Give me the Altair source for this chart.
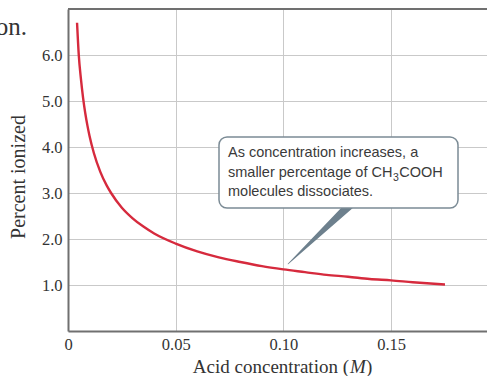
import altair as alt
import pandas as pd

# Percent ionization of acetic acid versus its concentration
conc = [0.0042, 0.005, 0.006, 0.007, 0.008, 0.009, 0.010, 0.012, 0.015, 0.018,
        0.020, 0.025, 0.030, 0.035, 0.040, 0.050, 0.060, 0.070, 0.080, 0.090,
        0.100, 0.110, 0.120, 0.130, 0.140, 0.150, 0.160, 0.175]
pct = [6.70, 6.00, 5.48, 5.07, 4.74, 4.47, 4.24, 3.87, 3.46, 3.16,
       3.00, 2.68, 2.45, 2.27, 2.12, 1.90, 1.73, 1.60, 1.50, 1.41,
       1.34, 1.28, 1.22, 1.18, 1.13, 1.10, 1.06, 1.01]

x_ticks = [0, 0.05, 0.10, 0.15]
y_ticks = [1, 2, 3, 4, 5, 6]

note_lines = ["As concentration increases, a", "smaller percentage of CH",
              "3", "COOH", "molecules dissociates."]

W, H = 419, 322
SERIF = "Liberation Serif"
SANS = "Liberation Sans"
AXIS_GRAY = "#707070"
GRID = "#c9c9c9"
TXT = "#333333"

curve_df = pd.DataFrame({"conc": conc, "pct": pct})

base = alt.Chart(curve_df)

curve = base.mark_line(color="#d62a3d", strokeWidth=2.4, interpolate="monotone").encode(
    x=alt.X("conc:Q",
            scale=alt.Scale(domain=[0, 0.1945], nice=False, zero=True),
            axis=alt.Axis(values=x_ticks, title=None, ticks=False,
                          labelExpr="datum.value == 0 ? '0' : format(datum.value, '.2f')",
                          labelFont=SERIF, labelFontSize=16.5, labelColor=TXT,
                          labelPadding=5, labelFlush=False,
                          domainColor=AXIS_GRAY, domainWidth=2,
                          gridColor=GRID, gridWidth=1)),
    y=alt.Y("pct:Q",
            scale=alt.Scale(domain=[0, 7], nice=False),
            axis=alt.Axis(values=y_ticks, title=None, ticks=False, format=".1f",
                          labelFont=SERIF, labelFontSize=16.5, labelColor=TXT,
                          labelPadding=6,
                          domainColor=AXIS_GRAY, domainWidth=2,
                          gridColor=GRID, gridWidth=1)),
)

# Top frame line
top_rule = alt.Chart(pd.DataFrame({"a": [0]})).mark_rule(
    color=AXIS_GRAY, strokeWidth=2
).encode(x=alt.value(0), x2=alt.value(W), y=alt.value(0))

# Callout pointer (pixel coordinates in the plot frame)
pointer_df = pd.DataFrame({"px": [220, 286], "py": [255, 192], "w": [0.6, 9]})
pointer = alt.Chart(pointer_df).mark_trail(color="#6d808d").encode(
    x=alt.X("px:Q", scale=None),
    y=alt.Y("py:Q", scale=None),
    size=alt.Size("w:Q", scale=None, legend=None),
)

# Callout box
box = alt.Chart(pd.DataFrame({"a": [0]})).mark_rect(
    fill="white", stroke="#7b8b95", strokeWidth=1.5, cornerRadius=8
).encode(x=alt.value(151), x2=alt.value(390), y=alt.value(128), y2=alt.value(199))

def label(text, x, y, size, font, align="left", style="normal", color=TXT, angle=0):
    return alt.Chart(pd.DataFrame({"t": [text]})).mark_text(
        align=align, baseline="alphabetic", font=font, fontSize=size,
        fontStyle=style, color=color, angle=angle
    ).encode(x=alt.value(x), y=alt.value(y), text="t:N")

NOTE = "#3a3a3a"
fs = 14.5
x0 = 160
ch_w = 11.337 * fs
note = (
    label(note_lines[0], x0, 148, fs, SANS, color=NOTE)
    + label(note_lines[1], x0, 168, fs, SANS, color=NOTE)
    + label(note_lines[2], x0 + ch_w + 0.5, 172, 10.5, SANS, color=NOTE)
    + label(note_lines[3], x0 + ch_w + 6.8, 168, fs, SANS, color=NOTE)
    + label(note_lines[4], x0, 187, fs, SANS, color=NOTE)
)

titles = (
    label("on.", -41, 26, 25, SERIF, align="right")
    + label("Percent ionized", -43, 168, 20, SERIF, align="center", angle=270)
    + label("Acid concentration (", 281, 364, 19, SERIF, align="right")
    + label("M", 282, 364, 19, SERIF, style="italic")
    + label(")", 298, 364, 19, SERIF)
)

chart = alt.layer(curve, top_rule, pointer, box, note, titles).properties(
    width=W, height=H,
    autosize=alt.AutoSizeParams(type="none"),
    padding={"left": 68, "top": 9, "right": 0, "bottom": 45},
    background="white",
).configure_view(stroke=None)

chart.save("out.html", embed_options={"renderer": "svg", "actions": False})
